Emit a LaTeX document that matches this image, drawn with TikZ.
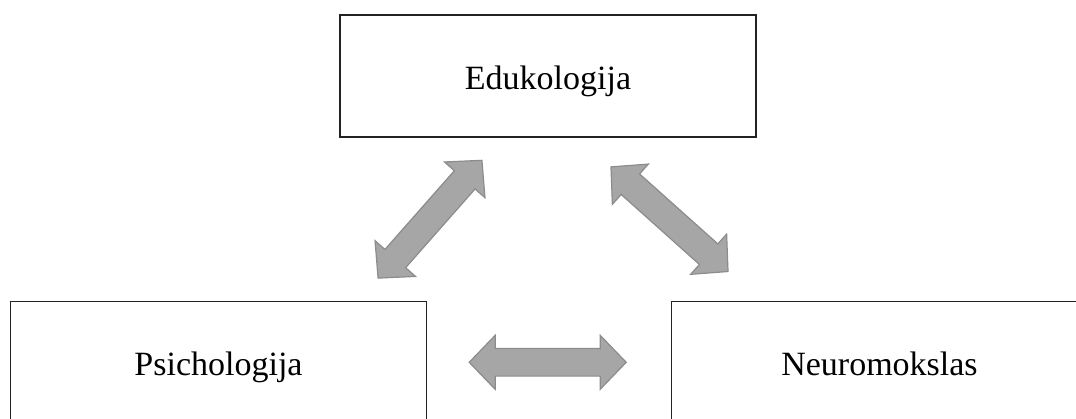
\documentclass[tikz,border=0pt]{standalone}
\usepackage{fontspec}
\setmainfont{Liberation Serif}
\definecolor{arrowfill}{HTML}{A6A6A6}
\definecolor{arrowline}{HTML}{8C8C8C}
\definecolor{boxline}{HTML}{222222}
\tikzset{
  box/.style={draw=boxline, line width=0.9pt, minimum width=208pt, minimum height=61pt, inner sep=0pt,
    text height=15pt, text depth=2pt, font=\fontsize{17}{20}\selectfont},
  blockarrow/.style={fill=arrowfill, draw=arrowline, line width=0.6pt, line join=miter},
  dblarrow/.pic={
    \path[blockarrow] (-78.5,0) -- (-52.5,27) -- (-52.5,13.8) -- (52.5,13.8) -- (52.5,27) -- (78.5,0)
      -- (52.5,-27) -- (52.5,-13.8) -- (-52.5,-13.8) -- (-52.5,-27) -- cycle;
  }
}
\begin{document}
\begin{tikzpicture}[x=0.5pt, y=-0.5pt]
\useasboundingbox (0,0) rectangle (1076,418);
\begin{scope}
\clip (0,0) rectangle (1076,418);
\node[box] (edu) at (548,76) {Edukologija};
\node[box] (psi) at (218.5,362.5) {Psichologija};
\node[box] (neu) at (879.5,362.5) {Neuromokslas};
\end{scope}
\pic (a1) [rotate=48.6] at (430,219.2) {dblarrow};
\pic (a2) [rotate=-41.8] at (669.5,219.2) {dblarrow};
\pic (a3) at (547.7,362.3) {dblarrow};
\end{tikzpicture}
\end{document}
